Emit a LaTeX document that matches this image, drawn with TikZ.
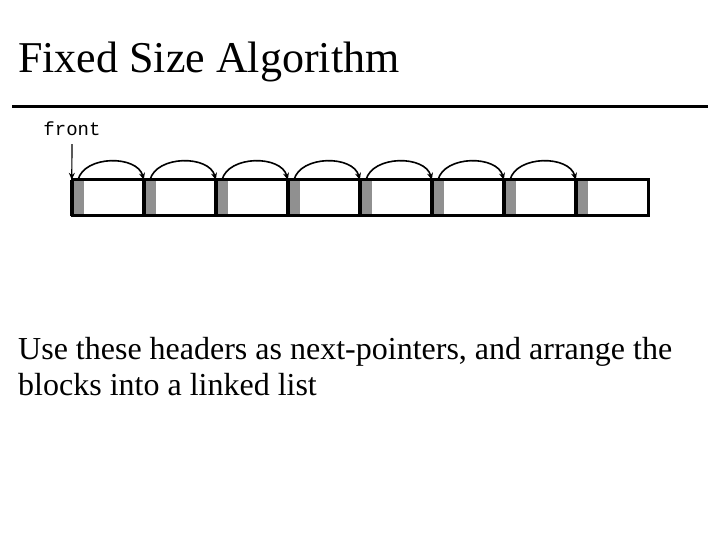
\documentclass[tikz,border=0pt]{standalone}
\usepackage{fontspec}
\setmainfont{Liberation Serif}
\setmonofont{Liberation Mono}
\usepackage{tikz}
\usetikzlibrary{arrows.meta}
\definecolor{hdrG}{RGB}{144,144,144}

\begin{document}
\begin{tikzpicture}[x=1pt, y=-1pt, >={Stealth[length=7pt,width=6pt]},
  blk/.style={rectangle, draw=black, line width=3pt, minimum width=72pt, minimum height=36pt, inner sep=0},
  hdr/.style={rectangle, fill=hdrG, minimum width=12pt, minimum height=36pt, inner sep=0},
  ptr/.style={->, line width=1.6pt}]
  \useasboundingbox (0,0) rectangle (720,540);
  \node[anchor=base west, inner sep=0, font=\fontsize{44}{50}\selectfont] (title) at (18,73) {Fixed Size Algorithm};
  \draw[line width=3pt] (12,107) -- (708,107);
  % the blocks, each with its header
  \foreach \i in {1,...,8} {
    \node[hdr] (h\i) at ({72*\i+6},198) {};
    \node[blk] (b\i) at ({72*\i+36},198) {};
    \draw[line width=3pt] (h\i.north west) -- (h\i.south west);
  }
  \foreach \i [evaluate=\i as \j using int(\i+1)] in {1,...,7}
    \draw[ptr] (h\i.north) to[out=75, in=105] (h\j.north west);
  \node[font=\ttfamily\fontsize{19}{22}\selectfont, inner sep=0] (front) at (72,129) {front};
  \draw[->, line width=1.2pt, shorten <=8pt] (front.south) -- (h1.north west);
  \node[anchor=base west, inner sep=0, align=left, font=\fontsize{32}{36}\selectfont] (txt) at (18,395)
    {Use these headers as next-pointers, and arrange the\\blocks into a linked list};
\end{tikzpicture}
\end{document}
